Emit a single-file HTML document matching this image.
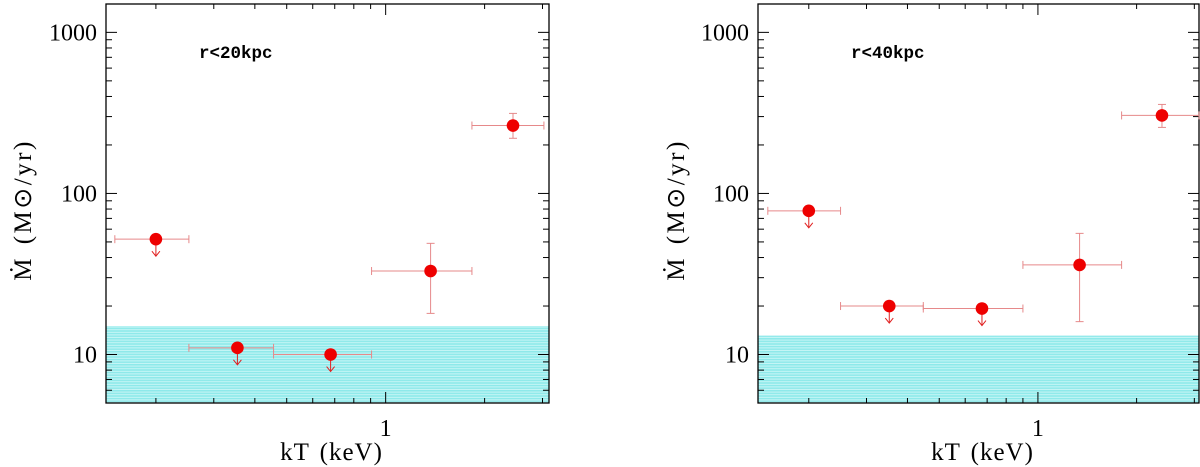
<!DOCTYPE html>
<html><head><meta charset="utf-8"><style>
html,body{margin:0;padding:0;background:#fff;}
svg{display:block;}
.ser{font-family:"Liberation Serif",serif;fill:#000;}
.mono{font-family:"Liberation Mono",monospace;fill:#000;}
</style></head><body>
<svg id="c" width="1200" height="467" viewBox="0 0 1200 467" xmlns="http://www.w3.org/2000/svg">
<defs>
<pattern id="hatch" width="10" height="2.6" patternUnits="userSpaceOnUse">
<rect width="10" height="2.6" fill="#c8f6f6"/>
<rect width="10" height="1.6" fill="#8ee9ea"/>
</pattern>
</defs>
</svg>
<script>
// Panel 1 (r<20kpc)
const p1X = [0.2, 0.354, 0.68, 1.37, 2.44];
const p1XLo = [0.15, 0.252, 0.456, 0.906, 1.83];
const p1XHi = [0.252, 0.456, 0.906, 1.83, 3.03];
const p1Y = [52, 11, 10, 33, 264];
const p1YLo = [null, null, null, 18, 220];
const p1YHi = [null, null, null, 49, 314];
const p1Upper = [true, true, true, false, false];
const p1Band = 15;
// Panel 2 (r<40kpc)
const p2X = [0.2, 0.352, 0.675, 1.34, 2.39];
const p2XLo = [0.15, 0.25, 0.447, 0.9, 1.8];
const p2XHi = [0.25, 0.447, 0.9, 1.8, 3.1];
const p2Y = [78, 20, 19.3, 36, 305];
const p2YLo = [null, null, null, 16, 257];
const p2YHi = [null, null, null, 56.5, 357];
const p2Upper = [true, true, true, false, false];
const p2Band = 13.1;
const yTicks = [10, 100, 1000];
const yTickLabels = ['10', '100', '1000'];
const xTicks = [1];
const xTickLabels = ['1'];

const NS = 'http://www.w3.org/2000/svg';
const svg = document.getElementById('c');
function mk(tag, attrs, parent) {
  const e = document.createElementNS(NS, tag);
  for (const k in attrs) e.setAttribute(k, attrs[k]);
  (parent || svg).appendChild(e);
  return e;
}

function panel(cfg) {
  const {L, R, T, B, xmin, xmax, ymin, ymax, xs, xlo, xhi, ys, ylo, yhi, up, band, label, prefix, ylabX} = cfg;
  const g = mk('g', {});
  
  
  const sx = v => L + (Math.log10(v) - Math.log10(xmin)) / (Math.log10(xmax) - Math.log10(xmin)) * (R - L);
  const sy = v => B - (Math.log10(v) - Math.log10(ymin)) / (Math.log10(ymax) - Math.log10(ymin)) * (B - T);
  const bandTop = sy(band);
  const br = mk('rect', {x: L, y: bandTop, width: R - L, height: B - bandTop, fill: 'url(#hatch)'}, g);
  
  
  for (let d = 1; d <= 1000; d *= 10) {
    for (let m = 1; m < 10; m++) {
      const v = d * m;
      if (v < ymin || v > ymax) continue;
      const y = sy(v), len = m === 1 ? 11 : 6;
      mk('line', {x1: L, x2: L + len, y1: y, y2: y, stroke: '#000', 'stroke-width': 1}, g);
      mk('line', {x1: R, x2: R - len, y1: y, y2: y, stroke: '#000', 'stroke-width': 1}, g);
    }
  }
  yTicks.forEach((v, i) => {
    const t = mk('text', {x: L - 9, y: sy(v) + 8, 'text-anchor': 'end', 'font-size': 24, class: 'ser'}, g);
    t.textContent = yTickLabels[i];
    
    
  });
  for (let d = 0.1; d <= 10; d *= 10) {
    for (let m = 1; m < 10; m++) {
      const v = d * m;
      if (v < xmin || v > xmax) continue;
      const x = sx(v), len = (Math.abs(v - 1) < 1e-6) ? 11 : 5;
      mk('line', {x1: x, x2: x, y1: B, y2: B - len, stroke: '#000', 'stroke-width': 1}, g);
      mk('line', {x1: x, x2: x, y1: T, y2: T + len, stroke: '#000', 'stroke-width': 1}, g);
    }
  }
  xTicks.forEach((v, i) => {
    const t = mk('text', {x: sx(v), y: B + 33, 'text-anchor': 'middle', 'font-size': 24, class: 'ser'}, g);
    t.textContent = xTickLabels[i];
    
    
  });
  const fr = mk('rect', {x: L, y: T, width: R - L, height: B - T, fill: 'none', stroke: '#000', 'stroke-width': 1.3}, g);
  
  
  xs.forEach((xv, i) => {
    const pg = mk('g', {}, g);
    
    
    const cx = sx(xv), cy = sy(ys[i]);
    const ec = '#e6898a';
    mk('line', {x1: sx(xlo[i]), x2: sx(xhi[i]), y1: cy, y2: cy, stroke: ec, 'stroke-width': 1}, pg);
    mk('line', {x1: sx(xlo[i]), x2: sx(xlo[i]), y1: cy - 4, y2: cy + 4, stroke: ec, 'stroke-width': 1}, pg);
    mk('line', {x1: sx(xhi[i]), x2: sx(xhi[i]), y1: cy - 4, y2: cy + 4, stroke: ec, 'stroke-width': 1}, pg);
    if (ylo[i] != null) {
      mk('line', {x1: cx, x2: cx, y1: sy(ylo[i]), y2: sy(yhi[i]), stroke: ec, 'stroke-width': 1}, pg);
      mk('line', {x1: cx - 4, x2: cx + 4, y1: sy(ylo[i]), y2: sy(ylo[i]), stroke: ec, 'stroke-width': 1}, pg);
      mk('line', {x1: cx - 4, x2: cx + 4, y1: sy(yhi[i]), y2: sy(yhi[i]), stroke: ec, 'stroke-width': 1}, pg);
    }
    if (up[i]) {
      mk('line', {x1: cx, x2: cx, y1: cy, y2: cy + 17, stroke: '#e02020', 'stroke-width': 1}, pg);
      mk('polyline', {points: `${cx - 4},${cy + 12} ${cx},${cy + 17} ${cx + 4},${cy + 12}`, fill: 'none', stroke: '#e02020', 'stroke-width': 1}, pg);
    }
    mk('circle', {cx: cx, cy: cy, r: 6.3, fill: '#ee0000'}, pg);
  });
  const a = mk('text', {x: L + label.dx, y: 58, 'font-size': 17.5, 'font-weight': 'bold', class: 'mono'}, g);
  a.textContent = label.text;
  
  
  const xt = mk('text', {x: (L + R) / 2 + 4, y: 460, 'text-anchor': 'middle', 'font-size': 25, 'letter-spacing': 1, 'word-spacing': 3, class: 'ser'}, g);
  xt.textContent = 'kT (keV)';
  
  
  const yt = mk('text', {x: 0, y: 0, 'text-anchor': 'middle', 'font-size': 25, 'letter-spacing': 2.5, 'word-spacing': 3, class: 'ser', transform: `translate(${ylabX},210) rotate(-90)`}, g);
  yt.textContent = 'Ṁ (M⊙/yr)';
  
  
}

panel({L: 106, R: 549, T: 4, B: 403, xmin: 0.141, xmax: 3.14, ymin: 5.0, ymax: 1500,
  xs: p1X, xlo: p1XLo, xhi: p1XHi, ys: p1Y, ylo: p1YLo, yhi: p1YHi, up: p1Upper, band: p1Band,
  label: {text: 'r<20kpc', dx: 93}, prefix: 'left', ylabX: 31});
panel({L: 758, R: 1199, T: 4, B: 403, xmin: 0.14, xmax: 3.1, ymin: 5.0, ymax: 1500,
  xs: p2X, xlo: p2XLo, xhi: p2XHi, ys: p2Y, ylo: p2YLo, yhi: p2YHi, up: p2Upper, band: p2Band,
  label: {text: 'r<40kpc', dx: 93}, prefix: 'right', ylabX: 684});
</script>
</body></html>
